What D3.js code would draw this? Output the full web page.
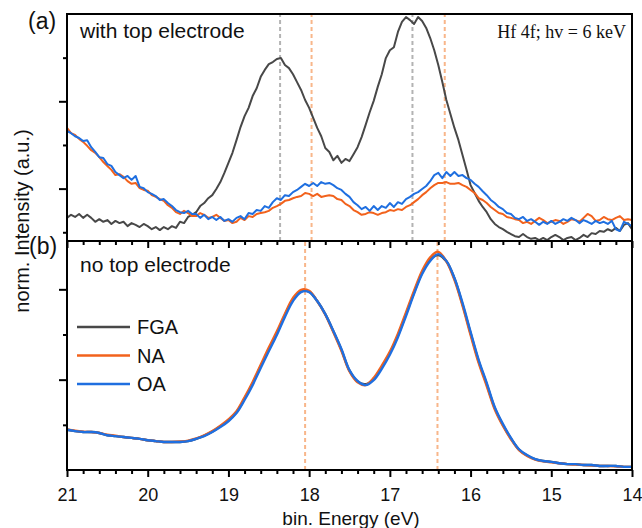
<!DOCTYPE html>
<html>
<head>
<meta charset="utf-8">
<script src="https://cdn.jsdelivr.net/npm/d3@7"></script>
<style>
  body { margin: 0; background: #fff; }
  text { font-family: "Liberation Sans", Arial, sans-serif; fill: #111; }
</style>
</head>
<body>
<script>
// measurement grid (eV), high -> low
const energyTop = d3.range(2100, 1399, -5).map(d => d / 100)
const energyBottom = d3.range(210, 139, -1).map(d => d / 10)

// (a) with top electrode, norm. intensity
const topFGA = [
  1.33, 1.40, 1.35, 1.42, 1.33, 1.40, 1.33, 1.24, 1.30, 1.24,
  1.28, 1.19, 1.26, 1.21, 1.24, 1.14, 1.21, 1.17, 1.12, 1.19,
  1.14, 1.07, 1.12, 1.05, 1.12, 1.07, 1.14, 1.10, 1.24, 1.21,
  1.35, 1.40, 1.46, 1.60, 1.67, 1.78, 1.85, 1.99, 2.15, 2.36,
  2.59, 2.82, 3.11, 3.41, 3.66, 3.85, 4.12, 4.30, 4.56, 4.72,
  4.85, 4.90, 4.97, 4.99, 4.83, 4.76, 4.62, 4.44, 4.26, 4.03,
  3.85, 3.62, 3.39, 3.20, 2.93, 2.84, 2.65, 2.75, 2.59, 2.68,
  2.63, 2.79, 2.95, 3.18, 3.46, 3.75, 4.01, 4.33, 4.62, 4.99,
  5.17, 5.24, 5.59, 5.82, 5.93, 5.86, 5.77, 5.93, 5.84, 5.68,
  5.45, 5.17, 4.83, 4.44, 4.03, 3.71, 3.39, 3.11, 2.77, 2.43,
  2.08, 1.90, 1.72, 1.58, 1.46, 1.30, 1.19, 1.12, 1.07, 1.01,
  0.96, 0.91, 0.89, 0.96, 0.89, 0.85, 0.87, 0.82, 0.87, 0.82,
  0.89, 0.94, 0.89, 0.82, 0.87, 0.89, 0.82, 0.87, 0.94, 0.89,
  0.98, 0.96, 1.03, 1.01, 1.07, 1.03, 1.10, 1.03, 1.17, 1.21,
  1.07
]
const topNA = [
  3.39, 3.27, 3.23, 3.14, 3.07, 2.98, 2.88, 2.82, 2.72, 2.61,
  2.52, 2.43, 2.31, 2.33, 2.27, 2.17, 2.11, 2.13, 2.01, 1.97,
  1.95, 1.85, 1.81, 1.76, 1.72, 1.62, 1.56, 1.46, 1.42, 1.49,
  1.44, 1.37, 1.37, 1.44, 1.40, 1.33, 1.35, 1.40, 1.33, 1.26,
  1.28, 1.21, 1.24, 1.33, 1.28, 1.37, 1.35, 1.42, 1.44, 1.46,
  1.49, 1.56, 1.60, 1.65, 1.72, 1.74, 1.78, 1.81, 1.83, 1.90,
  1.88, 1.83, 1.88, 1.81, 1.83, 1.85, 1.83, 1.76, 1.74, 1.65,
  1.60, 1.51, 1.46, 1.40, 1.42, 1.46, 1.44, 1.40, 1.44, 1.46,
  1.51, 1.49, 1.53, 1.51, 1.58, 1.62, 1.69, 1.76, 1.85, 1.92,
  2.01, 2.08, 2.13, 2.13, 2.15, 2.11, 2.11, 2.13, 2.08, 2.04,
  1.97, 1.90, 1.78, 1.74, 1.67, 1.58, 1.51, 1.44, 1.42, 1.35,
  1.33, 1.30, 1.28, 1.21, 1.24, 1.19, 1.26, 1.33, 1.28, 1.21,
  1.24, 1.28, 1.26, 1.19, 1.24, 1.30, 1.28, 1.24, 1.33, 1.42,
  1.37, 1.26, 1.28, 1.35, 1.30, 1.28, 1.33, 1.37, 1.28, 1.30,
  1.28
]
const topOA = [
  3.32, 3.27, 3.20, 3.16, 3.09, 3.11, 2.95, 2.84, 2.72, 2.70,
  2.56, 2.52, 2.38, 2.31, 2.24, 2.29, 2.20, 2.29, 2.04, 2.01,
  1.92, 1.88, 1.83, 1.74, 1.76, 1.67, 1.60, 1.51, 1.46, 1.44,
  1.49, 1.42, 1.42, 1.33, 1.40, 1.30, 1.35, 1.28, 1.35, 1.26,
  1.30, 1.24, 1.33, 1.37, 1.30, 1.44, 1.42, 1.51, 1.49, 1.60,
  1.56, 1.69, 1.78, 1.74, 1.85, 1.83, 1.92, 1.97, 2.04, 2.11,
  2.06, 2.13, 2.06, 2.15, 2.11, 2.13, 2.08, 2.01, 1.97, 1.88,
  1.81, 1.69, 1.62, 1.53, 1.58, 1.49, 1.60, 1.51, 1.60, 1.56,
  1.67, 1.58, 1.69, 1.65, 1.76, 1.81, 1.88, 1.92, 1.99, 2.06,
  2.17, 2.31, 2.36, 2.24, 2.38, 2.29, 2.38, 2.29, 2.31, 2.24,
  2.20, 2.11, 2.04, 1.94, 1.85, 1.74, 1.67, 1.58, 1.53, 1.44,
  1.42, 1.33, 1.30, 1.35, 1.26, 1.30, 1.24, 1.17, 1.24, 1.19,
  1.26, 1.19, 1.24, 1.30, 1.26, 1.33, 1.28, 1.21, 1.28, 1.24,
  1.19, 1.26, 1.21, 1.24, 1.19, 1.26, 1.07, 1.03, 1.24, 1.19,
  1.14
]

// (b) no top electrode
const botFGA = [
  0.89, 0.86, 0.84, 0.84, 0.82, 0.77, 0.75, 0.73, 0.71, 0.69,
  0.66, 0.64, 0.62, 0.62, 0.62, 0.64, 0.69, 0.76, 0.85, 0.97,
  1.10, 1.28, 1.58, 1.92, 2.30, 2.67, 3.03, 3.43, 3.78, 3.96,
  3.95, 3.74, 3.45, 3.07, 2.66, 2.20, 1.96, 1.90, 2.02, 2.28,
  2.59, 2.98, 3.45, 3.93, 4.37, 4.66, 4.76, 4.62, 4.24, 3.67,
  3.03, 2.41, 1.90, 1.37, 1.00, 0.70, 0.45, 0.32, 0.24, 0.20,
  0.18, 0.15, 0.13, 0.13, 0.11, 0.11, 0.09, 0.09, 0.09, 0.07,
  0.07
]
const botNA = [
  0.90, 0.87, 0.85, 0.84, 0.82, 0.78, 0.76, 0.73, 0.71, 0.69,
  0.66, 0.64, 0.62, 0.62, 0.63, 0.65, 0.70, 0.77, 0.86, 0.98,
  1.12, 1.30, 1.61, 1.95, 2.33, 2.71, 3.07, 3.46, 3.81, 3.99,
  3.97, 3.74, 3.44, 3.05, 2.64, 2.18, 1.94, 1.88, 2.04, 2.31,
  2.62, 3.02, 3.49, 3.97, 4.41, 4.71, 4.83, 4.62, 4.21, 3.64,
  2.99, 2.37, 1.86, 1.34, 0.98, 0.68, 0.44, 0.31, 0.23, 0.19,
  0.17, 0.15, 0.13, 0.12, 0.11, 0.10, 0.09, 0.09, 0.08, 0.07,
  0.07
]
const botOA = [
  0.89, 0.86, 0.84, 0.84, 0.82, 0.77, 0.75, 0.73, 0.71, 0.69,
  0.66, 0.64, 0.62, 0.62, 0.62, 0.64, 0.69, 0.75, 0.84, 0.95,
  1.08, 1.26, 1.55, 1.88, 2.26, 2.63, 2.99, 3.39, 3.74, 3.94,
  3.94, 3.74, 3.45, 3.08, 2.68, 2.21, 1.97, 1.88, 1.99, 2.24,
  2.55, 2.94, 3.41, 3.90, 4.34, 4.63, 4.78, 4.63, 4.25, 3.70,
  3.06, 2.44, 1.93, 1.39, 1.02, 0.71, 0.46, 0.33, 0.24, 0.20,
  0.18, 0.15, 0.13, 0.13, 0.11, 0.11, 0.09, 0.09, 0.09, 0.07,
  0.07
]

// peak positions marked with dashed lines
const topGuides = [18.36, 17.97, 16.72, 16.32]
const topGuideSample = ["FGA", "NA", "FGA", "NA"]
const bottomGuides = [18.05, 16.41]

const samples = ["FGA", "NA", "OA"]
const majorE = [21, 20, 19, 18, 17, 16, 15, 14]
const minorE = d3.range(140, 211, 2).filter(d => d % 10 !== 0).map(d => d / 10)

const colors = {FGA: "#484848", NA: "#f2621c", OA: "#1f6fe0"}
const guideColors = {FGA: "#b3b3b3", NA: "#f8b68a"}

const width = 642, height = 528
const margin = {top: 14, right: 10, bottom: 58, left: 67}
const split = 241

const svg = d3.select("body").append("svg")
  .attr("width", width)
  .attr("height", height)

const x = d3.scaleLinear().domain([21, 14]).range([margin.left, width - margin.right])
const yTop = d3.scaleLinear().domain([0.8, 6.0]).range([split, margin.top])
const yBot = d3.scaleLinear().domain([0, 5.07]).range([height - margin.bottom, split])

// clip each panel
const defs = svg.append("defs")
defs.append("clipPath").attr("id", "clipTop").append("rect")
  .attr("x", margin.left).attr("y", margin.top)
  .attr("width", x.range()[1] - margin.left).attr("height", split - margin.top)
defs.append("clipPath").attr("id", "clipBot").append("rect")
  .attr("x", margin.left).attr("y", split)
  .attr("width", x.range()[1] - margin.left).attr("height", height - margin.bottom - split)

function drawPanel(clipId, y, energy, series, guides, guideKinds, curve, lw) {
  const g = svg.append("g").attr("clip-path", `url(#${clipId})`)

  g.selectAll("line.guide")
    .data(guides)
    .join("line")
      .attr("class", "guide")
      .attr("x1", d => x(d)).attr("x2", d => x(d))
      .attr("y1", y.range()[0]).attr("y2", y.range()[1])
      .attr("stroke", (d, i) => guideColors[guideKinds[i]])
      .attr("stroke-width", 2)
      .attr("stroke-dasharray", "4,3")

  const line = d3.line()
    .x((d, i) => x(energy[i]))
    .y(d => y(d))
    .curve(curve)

  samples.forEach(s => {
    g.append("path")
      .datum(series[s])
      .attr("fill", "none")
      .attr("stroke", colors[s])
      .attr("stroke-width", lw)
      .attr("stroke-linejoin", "round")
      .attr("d", line)
  })
}

drawPanel("clipTop", yTop, energyTop, {FGA: topFGA, NA: topNA, OA: topOA},
  topGuides, topGuideSample, d3.curveLinear, 2)
drawPanel("clipBot", yBot, energyBottom, {FGA: botFGA, NA: botNA, OA: botOA},
  bottomGuides, bottomGuides.map(() => "NA"), d3.curveCatmullRom, 2.4)

// frames
const axisW = 2
svg.append("rect")
  .attr("x", margin.left).attr("y", margin.top)
  .attr("width", x.range()[1] - margin.left)
  .attr("height", height - margin.bottom - margin.top)
  .attr("fill", "none").attr("stroke", "#000").attr("stroke-width", axisW)
svg.append("line")
  .attr("x1", margin.left).attr("x2", x.range()[1])
  .attr("y1", split).attr("y2", split)
  .attr("stroke", "#000").attr("stroke-width", axisW)

function styleTicks(g) {
  g.select(".domain").remove()
  g.selectAll(".tick line").attr("stroke", "#000").attr("stroke-width", 2)
}

// x ticks on the shared line and on the bottom
;[split, height - margin.bottom].forEach((yy, k) => {
  svg.append("g")
    .attr("transform", `translate(0,${yy})`)
    .call(d3.axisBottom(x).tickValues(minorE).tickSize(4).tickFormat(""))
    .call(styleTicks)
  const major = svg.append("g")
    .attr("transform", `translate(0,${yy})`)
    .call(d3.axisBottom(x).tickValues(majorE).tickSize(7).tickPadding(11)
      .tickFormat(k === 1 ? d3.format("d") : ""))
    .call(styleTicks)
  major.selectAll("text")
    .attr("font-size", 18)
    .attr("font-family", "Liberation Sans, Arial, sans-serif")
    .attr("fill", "#111")
})

// y ticks (no labels)
function yTicks(y, majors, minors) {
  svg.append("g")
    .attr("transform", `translate(${margin.left},0)`)
    .call(d3.axisLeft(y).tickValues(minors).tickSize(4).tickFormat(""))
    .call(styleTicks)
  svg.append("g")
    .attr("transform", `translate(${margin.left},0)`)
    .call(d3.axisLeft(y).tickValues(majors).tickSize(8).tickFormat(""))
    .call(styleTicks)
}
yTicks(yTop, [2, 4], [1, 3, 5])
yTicks(yBot, [2, 4], [1, 3])

// texts
svg.append("text").attr("x", 28).attr("y", 29).attr("font-size", 23).text("(a)")
svg.append("text").attr("x", 29).attr("y", 254).attr("font-size", 23).text("(b)")
svg.append("text").attr("x", 80).attr("y", 38).attr("font-size", 21).text("with top electrode")
svg.append("text").attr("x", 80).attr("y", 272).attr("font-size", 21).text("no top electrode")
svg.append("text")
  .attr("x", 626).attr("y", 38)
  .attr("text-anchor", "end")
  .attr("font-size", 18)
  .style("font-family", "'Liberation Serif', 'Times New Roman', serif")
  .text("Hf 4f; hv = 6 keV")

svg.append("text")
  .attr("transform", `translate(29,221) rotate(-90)`)
  .attr("text-anchor", "middle")
  .attr("font-size", 20)
  .text("norm. Intensity (a.u.)")

svg.append("text")
  .attr("x", 351).attr("y", 525)
  .attr("text-anchor", "middle")
  .attr("font-size", 19)
  .text("bin. Energy (eV)")

// legend
const legend = svg.append("g")
  .selectAll("g")
  .data(samples)
  .join("g")
    .attr("transform", (d, i) => `translate(77,${327 + i * 28.5})`)
legend.append("line")
  .attr("x1", 0).attr("x2", 53)
  .attr("stroke", d => colors[d])
  .attr("stroke-width", 2.4)
legend.append("text")
  .attr("x", 60).attr("y", 7)
  .attr("font-size", 20)
  .text(d => d)
</script>
</body>
</html>
